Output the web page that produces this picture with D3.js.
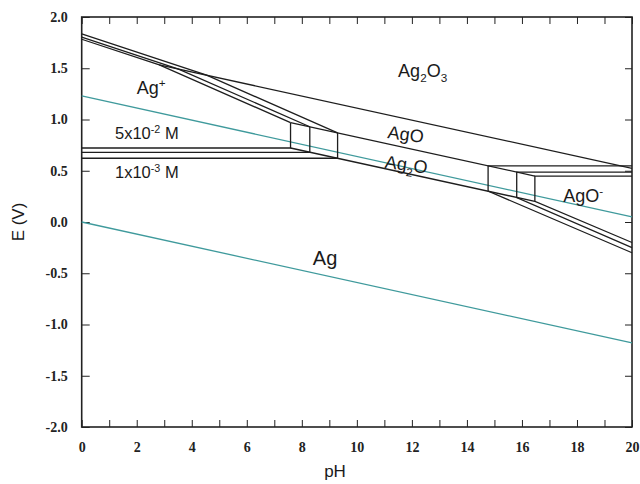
<!DOCTYPE html>
<html lang="en">
<head>
<meta charset="UTF-8">
<title>Ag E-pH diagram</title>
<script src="https://d3js.org/d3.v7.min.js"></script>
<style>
  body { margin: 0; background: #fff; }
  .tick text { font-family: 'Liberation Serif', 'Times New Roman', serif; font-weight: bold; font-size: 14px; fill: #222; }
  .tick line { stroke: #222; }
  .lbl { font-family: 'Liberation Sans', Arial, sans-serif; fill: #1a1a1a; }
</style>
</head>
<body>
<script>
// axes
const phTicks = d3.range(0, 21);          // minor ticks every pH unit
const phLabels = [0, 2, 4, 6, 8, 10, 12, 14, 16, 18, 20];
const eTicks = [-2, -1.5, -1, -0.5, 0, 0.5, 1, 1.5, 2];

// water stability lines [pH, E]
const o2Line = [[0, 1.23], [20, 0.05]];
const h2Line = [[0, 0.0], [20, -1.18]];

// boundaries for the three Ag concentrations (5e-2, 1e-2, 1e-3 M)
const agPlusUpper = [
  [[0, 1.783], [2.82, 1.533], [7.59, 0.969]],
  [[0, 1.803], [3.52, 1.491], [8.29, 0.929]],
  [[0, 1.835], [4.54, 1.432], [9.30, 0.870]]
];
const agPlusLower = [
  [[7.59, 0.969], [7.59, 0.722], [0, 0.722]],
  [[8.29, 0.929], [8.29, 0.680], [0, 0.680]],
  [[9.30, 0.870], [9.30, 0.622], [0, 0.622]]
];
const agoMinusBox = [
  [[20, 0.448], [16.47, 0.448], [16.47, 0.201], [20, -0.20]],
  [[20, 0.486], [15.81, 0.486], [15.81, 0.239], [20, -0.25]],
  [[20, 0.548], [14.77, 0.548], [14.77, 0.301], [20, -0.30]]
];
// shared boundaries
const ag2o3Ago = [[2.82, 1.533], [20, 0.524]];
const agoAg2o = [[7.59, 0.969], [16.47, 0.448]];
const ag2oAg = [[7.59, 0.722], [16.47, 0.201]];

const W = 640, H = 484;
const svg = d3.select("body").append("svg").attr("width", W).attr("height", H);

const x = d3.scaleLinear().domain([0, 20]).range([81.7, 632]);
const y = d3.scaleLinear().domain([-2, 2]).range([427, 17]);

const line = d3.line().x(d => x(d[0])).y(d => y(d[1]));

// axes with inward ticks
svg.append("g").attr("transform", "translate(0,427)")
  .call(d3.axisBottom(x).tickValues(phTicks).tickSize(-7).tickPadding(15)
    .tickFormat(d => phLabels.includes(d) ? d : ""))
  .call(g => g.select(".domain").remove());
svg.append("g").attr("transform", "translate(0,17)")
  .call(d3.axisTop(x).tickValues(phTicks).tickSize(-7).tickFormat(""))
  .call(g => g.select(".domain").remove());
svg.append("g").attr("transform", "translate(81.7,0)")
  .call(d3.axisLeft(y).tickValues(eTicks).tickSize(-8).tickPadding(14)
    .tickFormat(d => d.toFixed(1)))
  .call(g => g.select(".domain").remove());
svg.append("g").attr("transform", "translate(632,0)")
  .call(d3.axisRight(y).tickValues(eTicks).tickSize(-7).tickFormat(""))
  .call(g => g.select(".domain").remove());

svg.append("rect")
  .attr("x", x(0)).attr("y", y(2))
  .attr("width", x(20) - x(0)).attr("height", y(-2) - y(2))
  .attr("fill", "none").attr("stroke", "#222").attr("stroke-width", 1.6);

// water lines
svg.selectAll(".water").data([o2Line, h2Line]).join("path")
  .attr("class", "water")
  .attr("d", line)
  .attr("fill", "none").attr("stroke", "#3f9a9c").attr("stroke-width", 1.3);

// phase boundaries
const bounds = [...agPlusUpper, ...agPlusLower, ...agoMinusBox, ag2o3Ago, agoAg2o, ag2oAg];
svg.selectAll(".bnd").data(bounds).join("path")
  .attr("class", "bnd")
  .attr("d", line)
  .attr("fill", "none").attr("stroke", "#1e1e1e").attr("stroke-width", 1.3)
  .attr("stroke-linejoin", "miter");

// labels: parts with optional sub/sup
function label(px, py, size, parts, rot) {
  const t = svg.append("text").attr("class", "lbl")
    .attr("x", px).attr("y", py).attr("font-size", size);
  if (rot) t.attr("transform", `rotate(${rot},${px},${py})`);
  let shift = 0;
  parts.forEach(p => {
    const s = t.append("tspan").text(p.t);
    let target = 0;
    if (p.sub) { target = size * 0.3; s.attr("font-size", size * 0.65); }
    if (p.sup) { target = -size * 0.38; s.attr("font-size", size * 0.65); }
    s.attr("dy", target - shift);
    shift = target;
  });
  return t;
}

label(x(11.5), y(1.415), 18, [{t: "Ag"}, {t: "2", sub: true}, {t: "O"}, {t: "3", sub: true}]);
label(x(2.0), y(1.246), 18, [{t: "Ag"}, {t: "+", sup: true}]);
label(x(1.21), y(0.807), 16.5, [{t: "5x10"}, {t: "-2", sup: true}, {t: " M"}]);
label(x(1.21), y(0.426), 16.5, [{t: "1x10"}, {t: "-3", sup: true}, {t: " M"}]);
label(x(11.1), y(0.82), 18, [{t: "AgO"}], 8);
label(x(11.0), y(0.53), 18, [{t: "Ag"}, {t: "2", sub: true}, {t: "O"}], 8);
label(x(8.4), y(-0.42), 20, [{t: "Ag"}]);
label(x(17.5), y(0.198), 18, [{t: "AgO"}, {t: "-", sup: true}]);

// axis titles
svg.append("text").attr("class", "lbl")
  .attr("transform", `translate(24,${y(0)}) rotate(-90)`)
  .attr("text-anchor", "middle").attr("font-size", 17)
  .text("E (V)");
svg.append("text").attr("class", "lbl")
  .attr("x", 335).attr("y", 477)
  .attr("text-anchor", "middle").attr("font-size", 17)
  .text("pH");
</script>
</body>
</html>
